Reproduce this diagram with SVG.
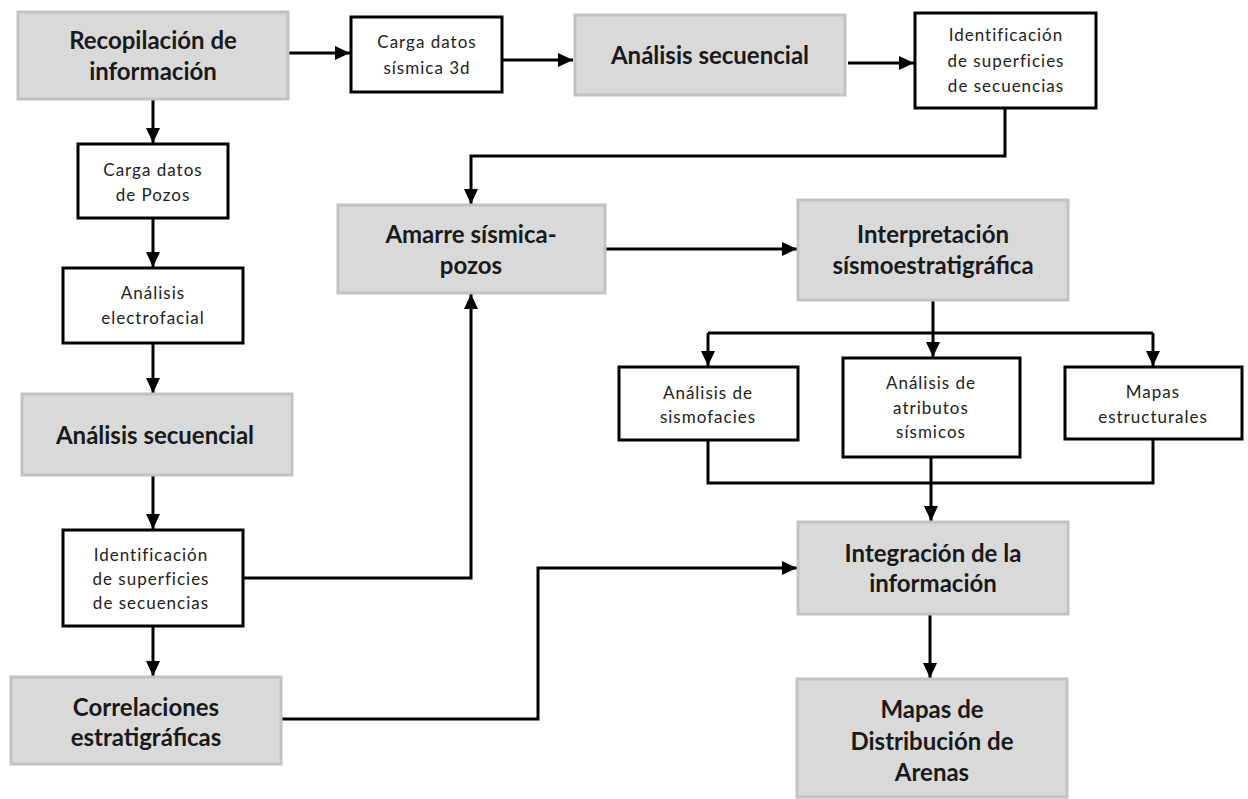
<svg xmlns="http://www.w3.org/2000/svg" width="1248" height="799" viewBox="0 0 1248 799">
<defs>
<marker id="ah" markerUnits="userSpaceOnUse" markerWidth="16" markerHeight="14" refX="15" refY="7" orient="auto">
<path d="M0,0 L15,7 L0,14 z" fill="#000"/>
</marker>
<style>
.g{fill:#d9d9d9;stroke:#c2c2c2;stroke-width:3}
.w{fill:#fff;stroke:#000;stroke-width:3}
.tb{font-family:Lato,"Liberation Sans",sans-serif;font-weight:bold;font-size:24px;fill:#1a1a1a;text-anchor:middle}
.ts{font-family:Lato,"Liberation Sans",sans-serif;font-size:17px;fill:#222;text-anchor:middle;letter-spacing:1px}
.c{fill:none;stroke:#000;stroke-width:3}
</style>
</defs>
<rect width="1248" height="799" fill="#fff"/>
<g id="connectors">
<path class="c" d="M287,53 H350" marker-end="url(#ah)"/>
<path class="c" d="M502,60 H573" marker-end="url(#ah)"/>
<path class="c" d="M848,63 H914" marker-end="url(#ah)"/>
<path class="c" d="M1005,108 V156 H471 V204" marker-end="url(#ah)"/>
<path class="c" d="M605,249 H797" marker-end="url(#ah)"/>
<path class="c" d="M933,300 V357" marker-end="url(#ah)"/>
<path class="c" d="M708,333 H1153"/>
<path class="c" d="M708,333 V366" marker-end="url(#ah)"/>
<path class="c" d="M1153,333 V366" marker-end="url(#ah)"/>
<path class="c" d="M708,440 V483 H1153 V439"/>
<path class="c" d="M931,457 V521" marker-end="url(#ah)"/>
<path class="c" d="M930,614 V678" marker-end="url(#ah)"/>
<path class="c" d="M153,99 V143" marker-end="url(#ah)"/>
<path class="c" d="M153,218 V267" marker-end="url(#ah)"/>
<path class="c" d="M153,343 V393" marker-end="url(#ah)"/>
<path class="c" d="M153,475 V529" marker-end="url(#ah)"/>
<path class="c" d="M243,578 H471 V294" marker-end="url(#ah)"/>
<path class="c" d="M153,626 V676" marker-end="url(#ah)"/>
<path class="c" d="M281,719 H538 V568 H797" marker-end="url(#ah)"/>
</g>
<g id="recopilacion"><rect class="g" x="18" y="12" width="270" height="87"/><text class="tb" x="153" y="49">Recopilación de</text><text class="tb" x="153" y="80">información</text></g>
<g id="carga-sismica"><rect class="w" x="351" y="17" width="151" height="75"/><text class="ts" x="427" y="48">Carga datos</text><text class="ts" x="427" y="74">sísmica 3d</text></g>
<g id="analisis-secuencial-sismica"><rect class="g" x="575" y="15" width="270" height="80"/><text class="tb" x="710" y="64">Análisis secuencial</text></g>
<g id="identificacion-sismica"><rect class="w" x="915" y="13" width="181" height="95"/><text class="ts" x="1006" y="41">Identificación</text><text class="ts" x="1006" y="67">de superficies</text><text class="ts" x="1006" y="92">de secuencias</text></g>
<g id="amarre"><rect class="g" x="338" y="205" width="267" height="88"/><text class="tb" x="471" y="243">Amarre sísmica-</text><text class="tb" x="471" y="274">pozos</text></g>
<g id="interpretacion"><rect class="g" x="798" y="200" width="270" height="100"/><text class="tb" x="933" y="243">Interpretación</text><text class="tb" x="933" y="274">sísmoestratigráfica</text></g>
<g id="sismofacies"><rect class="w" x="619" y="367" width="179" height="73"/><text class="ts" x="708" y="399">Análisis de</text><text class="ts" x="708" y="423">sismofacies</text></g>
<g id="atributos"><rect class="w" x="843" y="358" width="177" height="99"/><text class="ts" x="931" y="389">Análisis de</text><text class="ts" x="931" y="414">atributos</text><text class="ts" x="931" y="438">sísmicos</text></g>
<g id="mapas-estructurales"><rect class="w" x="1065" y="367" width="177" height="72"/><text class="ts" x="1153" y="398">Mapas</text><text class="ts" x="1153" y="423">estructurales</text></g>
<g id="integracion"><rect class="g" x="798" y="522" width="270" height="92"/><text class="tb" x="933" y="562">Integración de la</text><text class="tb" x="933" y="592">información</text></g>
<g id="mapas-distribucion"><rect class="g" x="797" y="679" width="270" height="118"/><text class="tb" x="932" y="718">Mapas de</text><text class="tb" x="932" y="750">Distribución de</text><text class="tb" x="932" y="781">Arenas</text></g>
<g id="carga-pozos"><rect class="w" x="78" y="144" width="150" height="74"/><text class="ts" x="153" y="176">Carga datos</text><text class="ts" x="153" y="201">de Pozos</text></g>
<g id="electrofacial"><rect class="w" x="63" y="268" width="180" height="75"/><text class="ts" x="153" y="299">Análisis</text><text class="ts" x="153" y="324">electrofacial</text></g>
<g id="analisis-secuencial-pozos"><rect class="g" x="22" y="394" width="270" height="81"/><text class="tb" x="155" y="444">Análisis secuencial</text></g>
<g id="identificacion-pozos"><rect class="w" x="63" y="530" width="180" height="96"/><text class="ts" x="151" y="561">Identificación</text><text class="ts" x="151" y="585">de superficies</text><text class="ts" x="151" y="609">de secuencias</text></g>
<g id="correlaciones"><rect class="g" x="11" y="677" width="270" height="87"/><text class="tb" x="146" y="716">Correlaciones</text><text class="tb" x="146" y="746">estratigráficas</text></g>
</svg>
